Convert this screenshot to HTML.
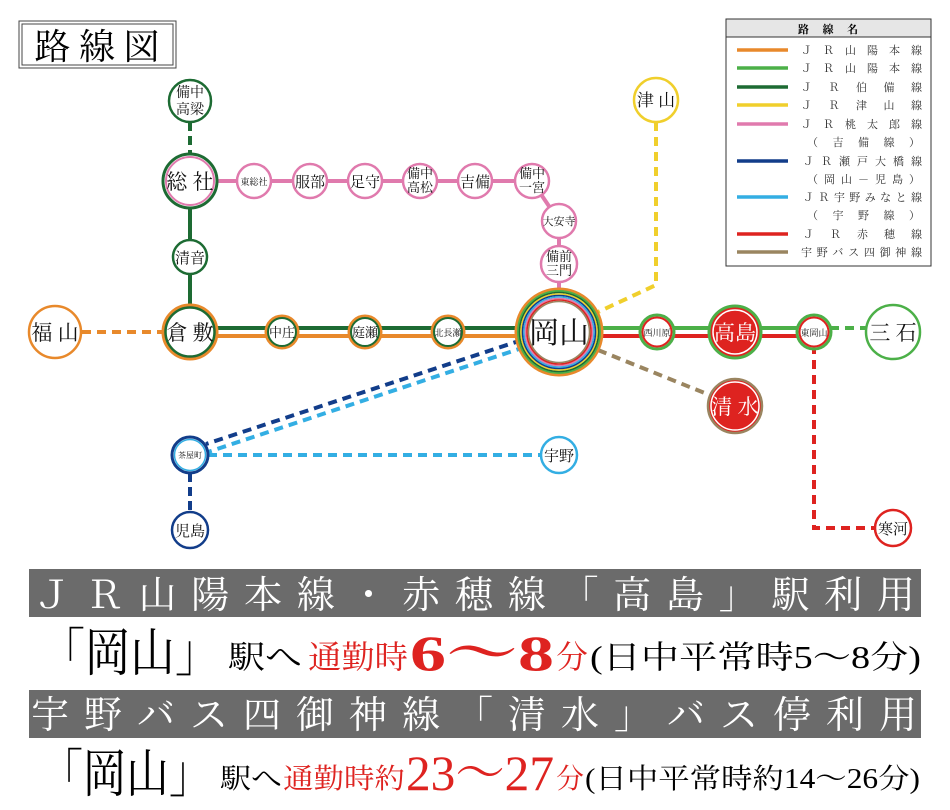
<!DOCTYPE html>
<html><head><meta charset="utf-8"><style>
html,body{margin:0;padding:0;background:#fff;}
svg{display:block;}
text{font-family:"Liberation Serif","Noto Serif CJK JP","Noto Serif CJK SC",serif;}
</style></head><body>
<svg width="950" height="810" viewBox="0 0 950 810" xmlns="http://www.w3.org/2000/svg">
<rect x="19" y="21" width="157" height="47" fill="#fff" stroke="#444" stroke-width="1"/>
<rect x="22" y="24" width="151" height="41" fill="#fff" stroke="#444" stroke-width="1"/>
<text x="97" y="59" font-size="36" text-anchor="middle" textLength="125" lengthAdjust="spacing">路線図</text>

<g fill="none">
<line x1="190" y1="122" x2="190" y2="154" stroke="#1d6b33" stroke-width="4" stroke-dasharray="9,5"/>
<line x1="190" y1="181" x2="190" y2="332" stroke="#1d6b33" stroke-width="4"/>
<line x1="82" y1="332" x2="163" y2="332" stroke="#e8892b" stroke-width="4" stroke-dasharray="9,6"/>
<line x1="210" y1="328" x2="520" y2="328" stroke="#1d6b33" stroke-width="4"/>
<line x1="210" y1="336" x2="520" y2="336" stroke="#e8892b" stroke-width="4"/>
<polyline points="190,181 532,181 559,221 559,290" stroke="#e07aad" stroke-width="4"/>
<polyline points="656,122 656,285 598,312" stroke="#f0cf2c" stroke-width="4" stroke-dasharray="9,6"/>
<line x1="600" y1="328" x2="814" y2="328" stroke="#4cb048" stroke-width="4"/>
<line x1="600" y1="336" x2="814" y2="336" stroke="#de2320" stroke-width="4"/>
<line x1="830" y1="328" x2="866" y2="328" stroke="#4cb048" stroke-width="4" stroke-dasharray="9,6"/>
<polyline points="814,345 814,528 875,528" stroke="#de2320" stroke-width="4" stroke-dasharray="9,6"/>
<line x1="598" y1="350" x2="712" y2="396" stroke="#9a8560" stroke-width="4" stroke-dasharray="9,6"/>
<line x1="522" y1="340" x2="206" y2="444" stroke="#123d8a" stroke-width="4" stroke-dasharray="9,6"/>
<line x1="525" y1="347" x2="208" y2="452" stroke="#33aee3" stroke-width="4" stroke-dasharray="9,6"/>
<line x1="208" y1="455" x2="541" y2="455" stroke="#33aee3" stroke-width="4" stroke-dasharray="9,6"/>
<line x1="190" y1="473" x2="190" y2="512" stroke="#123d8a" stroke-width="4" stroke-dasharray="9,5"/>
</g>

<g stroke-width="2.5" fill="#fff">
<circle cx="190" cy="101" r="21" stroke="#1d6b33"/>
<circle cx="190" cy="181" r="27" stroke="#1d6b33" stroke-width="3"/>
<circle cx="190" cy="181" r="24" stroke="#e07aad" stroke-width="2"/>
<circle cx="190" cy="257" r="17" stroke="#1d6b33"/>
<circle cx="190" cy="332" r="27" stroke="#e8892b" stroke-width="3"/>
<circle cx="190" cy="332" r="24.5" stroke="#1d6b33" stroke-width="2.5"/>
<circle cx="55" cy="332" r="26" stroke="#e8892b"/>
<circle cx="282" cy="332" r="16" stroke="#e8892b" stroke-width="3"/>
<circle cx="282" cy="332" r="14" stroke="#1d6b33" stroke-width="2"/>
<circle cx="365" cy="332" r="16" stroke="#e8892b" stroke-width="3"/>
<circle cx="365" cy="332" r="14" stroke="#1d6b33" stroke-width="2"/>
<circle cx="448" cy="332" r="16" stroke="#e8892b" stroke-width="3"/>
<circle cx="448" cy="332" r="14" stroke="#1d6b33" stroke-width="2"/>
<circle cx="254" cy="181" r="17" stroke="#e07aad"/>
<circle cx="310" cy="181" r="17" stroke="#e07aad"/>
<circle cx="365" cy="181" r="17" stroke="#e07aad"/>
<circle cx="420" cy="181" r="17" stroke="#e07aad"/>
<circle cx="475" cy="181" r="17" stroke="#e07aad"/>
<circle cx="532" cy="181" r="17" stroke="#e07aad"/>
<circle cx="559" cy="221" r="17" stroke="#e07aad"/>
<circle cx="559" cy="264" r="18" stroke="#e07aad"/>
<circle cx="559" cy="332" r="43" stroke="#e8892b" stroke-width="3"/>
<circle cx="559" cy="332" r="41" stroke="#4cb048" stroke-width="2"/>
<circle cx="559" cy="332" r="39.5" stroke="#1d6b33" stroke-width="1.6"/>
<circle cx="559" cy="332" r="38" stroke="#f0cf2c" stroke-width="1.6"/>
<circle cx="559" cy="332" r="36.5" stroke="#123d8a" stroke-width="1.6"/>
<circle cx="559" cy="332" r="35" stroke="#33aee3" stroke-width="1.6"/>
<circle cx="559" cy="332" r="33.5" stroke="#e07aad" stroke-width="1.6"/>
<circle cx="559" cy="332" r="32" stroke="#de2320" stroke-width="1.6"/>
<circle cx="559" cy="332" r="30.5" stroke="#9a8560" stroke-width="1.6"/>
<circle cx="656" cy="100" r="22" stroke="#f0cf2c"/>
<circle cx="657" cy="332" r="17" stroke="#4cb048" stroke-width="3"/>
<circle cx="657" cy="332" r="14.5" stroke="#de2320" stroke-width="2"/>
<circle cx="735" cy="332" r="26" stroke="#4cb048" stroke-width="3" fill="#de2320"/>
<circle cx="735" cy="332" r="22" stroke="#fff" stroke-width="1.5" fill="#de2320"/>
<circle cx="814" cy="332" r="17" stroke="#4cb048" stroke-width="3"/>
<circle cx="814" cy="332" r="14.5" stroke="#de2320" stroke-width="2"/>
<circle cx="893" cy="332" r="27" stroke="#4cb048"/>
<circle cx="735" cy="406" r="27" stroke="#9a8560" stroke-width="2.5" fill="#de2320"/>
<circle cx="735" cy="406" r="24" stroke="#fff" stroke-width="1.5" fill="#de2320"/>
<circle cx="893" cy="528" r="18" stroke="#de2320"/>
<circle cx="190" cy="455" r="18" stroke="#123d8a" stroke-width="3"/>
<circle cx="190" cy="455" r="15.5" stroke="#33aee3" stroke-width="1.5"/>
<circle cx="190" cy="530" r="18" stroke="#123d8a"/>
<circle cx="559" cy="455" r="18" stroke="#33aee3"/>
</g>

<g text-anchor="middle" fill="#111">
<text x="190" y="97" font-size="14">備中</text>
<text x="190" y="114" font-size="14">高梁</text>
<text x="190" y="189" font-size="21">総 社</text>
<text x="190" y="263" font-size="15">清音</text>
<text x="190" y="340" font-size="21">倉 敷</text>
<text x="55" y="340" font-size="21">福 山</text>
<text x="282" y="337" font-size="13">中庄</text>
<text x="365" y="337" font-size="13">庭瀬</text>
<text x="448" y="336" font-size="9">北長瀬</text>
<text x="254" y="185" font-size="9">東総社</text>
<text x="310" y="187" font-size="15">服部</text>
<text x="365" y="187" font-size="15">足守</text>
<text x="420" y="178" font-size="13">備中</text>
<text x="420" y="192" font-size="13">高松</text>
<text x="475" y="187" font-size="15">吉備</text>
<text x="532" y="178" font-size="13">備中</text>
<text x="532" y="192" font-size="13">一宮</text>
<text x="559" y="225" font-size="11">大安寺</text>
<text x="559" y="261" font-size="13">備前</text>
<text x="559" y="275" font-size="13">三門</text>
<text x="559" y="343" font-size="30">岡山</text>
<text x="656" y="106" font-size="17">津 山</text>
<text x="657" y="336" font-size="9">西川原</text>
<text x="735" y="340" font-size="21" fill="#fff">高島</text>
<text x="814" y="336" font-size="9">東岡山</text>
<text x="893" y="340" font-size="21">三 石</text>
<text x="735" y="414" font-size="21" fill="#fff">清 水</text>
<text x="893" y="534" font-size="15">寒河</text>
<text x="190" y="458" font-size="8">茶屋町</text>
<text x="190" y="536" font-size="15">児島</text>
<text x="559" y="461" font-size="15">宇野</text>
</g>

<rect x="726" y="19" width="205" height="247" fill="#fff" stroke="#333" stroke-width="1"/>
<rect x="726" y="19" width="205" height="18" fill="#e6e6e6" stroke="#333" stroke-width="1"/>
<text x="828" y="33" font-size="11" text-anchor="middle" textLength="60" lengthAdjust="spacing" font-weight="bold">路線名</text>
<g stroke-width="3.5">
<line x1="737" y1="50" x2="788" y2="50" stroke="#e8892b"/>
<line x1="737" y1="68" x2="788" y2="68" stroke="#4cb048"/>
<line x1="737" y1="87" x2="788" y2="87" stroke="#1d6b33"/>
<line x1="737" y1="105" x2="788" y2="105" stroke="#f0cf2c"/>
<line x1="737" y1="124" x2="788" y2="124" stroke="#e07aad"/>
<line x1="737" y1="161" x2="788" y2="161" stroke="#123d8a"/>
<line x1="737" y1="197" x2="788" y2="197" stroke="#33aee3"/>
<line x1="737" y1="234" x2="788" y2="234" stroke="#de2320"/>
<line x1="737" y1="252" x2="788" y2="252" stroke="#9a8560"/>
</g>
<g font-size="11" fill="#333">
<text x="801" y="54" textLength="121" lengthAdjust="spacing">ＪＲ山陽本線</text>
<text x="801" y="72" textLength="121" lengthAdjust="spacing">ＪＲ山陽本線</text>
<text x="801" y="91" textLength="121" lengthAdjust="spacing">ＪＲ伯備線</text>
<text x="801" y="109" textLength="121" lengthAdjust="spacing">ＪＲ津山線</text>
<text x="801" y="128" textLength="121" lengthAdjust="spacing">ＪＲ桃太郎線</text>
<text x="807" y="146" textLength="113" lengthAdjust="spacing">（吉備線）</text>
<text x="803" y="165" textLength="119" lengthAdjust="spacing">ＪＲ瀬戸大橋線</text>
<text x="807" y="183" textLength="113" lengthAdjust="spacing">（岡山－児島）</text>
<text x="803" y="201" textLength="119" lengthAdjust="spacing">ＪＲ宇野みなと線</text>
<text x="807" y="219" textLength="113" lengthAdjust="spacing">（宇野線）</text>
<text x="803" y="238" textLength="119" lengthAdjust="spacing">ＪＲ赤穂線</text>
<text x="801" y="256" textLength="121" lengthAdjust="spacing">宇野バス四御神線</text>
</g>

<rect x="29" y="569" width="892" height="48" fill="#6b6b6b"/>
<text x="33" y="608" font-size="38" fill="#fff" textLength="882" lengthAdjust="spacing">ＪＲ山陽本線・赤穂線「高島」駅利用</text>
<text x="40" y="671" font-size="52" textLength="180" lengthAdjust="spacingAndGlyphs">「岡山」</text>
<text x="228" y="668" font-size="32" textLength="74" lengthAdjust="spacingAndGlyphs">駅へ</text>
<text x="308" y="668" font-size="32" fill="#de2320" textLength="100" lengthAdjust="spacingAndGlyphs">通勤時</text>
<text x="410" y="670" font-size="50" fill="#de2320" font-weight="bold" textLength="144" lengthAdjust="spacingAndGlyphs">6～8</text>
<text x="556" y="668" font-size="32" fill="#de2320" textLength="32" lengthAdjust="spacingAndGlyphs">分</text>
<text x="590" y="668" font-size="32" textLength="331" lengthAdjust="spacingAndGlyphs">(日中平常時5～8分)</text>
<rect x="29" y="690" width="892" height="48" fill="#6b6b6b"/>
<text x="31" y="728" font-size="38" fill="#fff" textLength="886" lengthAdjust="spacing">宇野バス四御神線「清水」バス停利用</text>
<text x="40" y="792" font-size="52" textLength="172" lengthAdjust="spacingAndGlyphs">「岡山」</text>
<text x="220" y="788" font-size="28" textLength="62" lengthAdjust="spacingAndGlyphs">駅へ</text>
<text x="283" y="788" font-size="28" fill="#de2320" textLength="122" lengthAdjust="spacingAndGlyphs">通勤時約</text>
<text x="406" y="790" font-size="50" fill="#de2320" textLength="148" lengthAdjust="spacingAndGlyphs">23～27</text>
<text x="556" y="788" font-size="28" fill="#de2320" textLength="28" lengthAdjust="spacingAndGlyphs">分</text>
<text x="585" y="788" font-size="28" textLength="335" lengthAdjust="spacingAndGlyphs">(日中平常時約14～26分)</text>
</svg>
</body></html>
